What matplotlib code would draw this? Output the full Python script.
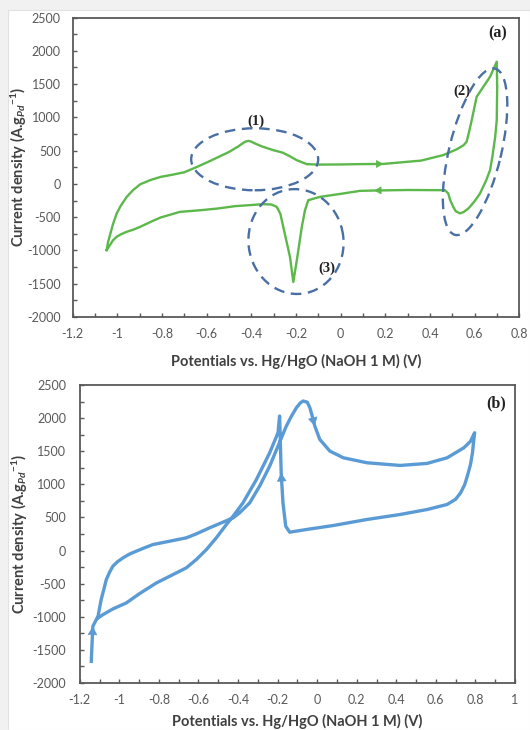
import matplotlib
matplotlib.use("Agg")
import matplotlib.pyplot as plt
import matplotlib.transforms as mtransforms
from matplotlib.patches import Ellipse, Rectangle
from matplotlib.ticker import MultipleLocator, FixedLocator, FixedFormatter

plt.rcParams['font.family'] = ['Lato', 'DejaVu Sans']
plt.rcParams['axes.unicode_minus'] = False
plt.rcParams['mathtext.fontset'] = 'custom'
plt.rcParams['mathtext.rm'] = 'Lato:bold'
plt.rcParams['mathtext.it'] = 'Lato:bold:italic'
plt.rcParams['mathtext.bf'] = 'Lato:bold'

# ---------------- Panel (a): CV, closed loop ----------------
a_potential = [-1.048, -1.042, -1.033, -1.02, -1.003, -0.985, -0.958, -0.93, -0.897,
               -0.85, -0.806, -0.75, -0.70, -0.64, -0.594, -0.55, -0.50, -0.46,
               -0.43, -0.414, -0.40, -0.389, -0.35, -0.302, -0.26, -0.23, -0.197,
               -0.17, -0.152, -0.10, 0.0, 0.087, 0.191, 0.36, 0.46, 0.52, 0.55,
               0.564, 0.575, 0.587, 0.609, 0.639, 0.669, 0.699,
               0.701, 0.699, 0.692, 0.68, 0.669, 0.65, 0.624, 0.60, 0.572, 0.55,
               0.534, 0.515, 0.504, 0.49, 0.482, 0.467, 0.30, 0.15, 0.087, 0.0,
               -0.092, -0.145, -0.16, -0.174, -0.194, -0.212, -0.227, -0.257,
               -0.27, -0.286, -0.31, -0.346, -0.473, -0.55, -0.624, -0.72, -0.76,
               -0.806, -0.85, -0.897, -0.93, -0.958, -0.985, -1.003, -1.02,
               -1.033, -1.048]
a_current = [-995, -880, -770, -610, -445, -330, -195, -95, -5,
             60, 105, 140, 175, 260, 330, 400, 480, 560,
             630, 647, 635, 615, 560, 507, 470, 420, 357,
             320, 297, 290, 292, 297, 300, 350, 433, 520, 580,
             633, 780, 959, 1310, 1460, 1611, 1837,
             1460, 959, 708, 420, 205, 40, -145, -260, -370, -425,
             -443, -410, -345, -240, -145, -95, -92, -100, -105, -150,
             -195, -245, -400, -647, -1098, -1475, -1098, -647,
             -450, -346, -310, -305, -335, -370, -395, -421, -460,
             -505, -570, -645, -690, -720, -760, -795, -850,
             -920, -995]
a_arrow_tips = [0.191, 0.15]   # potentials where the scan-direction arrows sit

a_xticks = [-1.2, -1.0, -0.8, -0.6, -0.4, -0.2, 0.0, 0.2, 0.4, 0.6, 0.8]
a_yticks = [-2000, -1500, -1000, -500, 0, 500, 1000, 1500, 2000, 2500]

# ---------------- Panel (b): CV, closed loop ----------------
b_potential = [-1.142, -1.138, -1.134, -1.108, -1.092, -1.078, -1.066, -1.05, -1.033,
               -1.01, -0.982, -0.95, -0.915, -0.87, -0.830, -0.746, -0.662, -0.611,
               -0.544, -0.476, -0.425, -0.392, -0.341, -0.291, -0.240, -0.198,
               -0.156, -0.13, -0.105, -0.085, -0.071, -0.05,
               -0.037, -0.025, -0.012, 0.013, 0.064, 0.132, 0.251, 0.420, 0.556,
               0.657, 0.742, 0.775, 0.796,
               0.79, 0.785, 0.775, 0.759, 0.745, 0.725, 0.70, 0.657, 0.556, 0.420,
               0.251, 0.081, -0.054, -0.139, -0.159, -0.173, -0.182, -0.187, -0.190,
               -0.198, -0.240, -0.307, -0.375, -0.425, -0.459, -0.510, -0.560,
               -0.611, -0.662, -0.729, -0.813, -0.898, -0.965, -1.033, -1.083,
               -1.108]
b_current = [-1673, -1400, -1144, -993, -741, -580, -438, -330, -237,
             -170, -111, -55, -10, 45, 91, 141, 192, 252,
             343, 429, 494, 570, 721, 973, 1275, 1578,
             1880, 2030, 2157, 2230, 2258, 2240,
             2157, 2030, 1880, 1679, 1502, 1401, 1326, 1285, 1316,
             1401, 1553, 1650, 1779,
             1620, 1477, 1300, 1124, 990, 872, 775, 696, 620, 545,
             469, 378, 318, 277, 368, 721, 1175, 1729, 2031,
             1779, 1477, 1074, 721, 519, 393, 192, 15,
             -136, -262, -363, -489, -650, -791, -882, -968,
             -1018]
b_arrow_tips = [-1.134, -0.012, -0.182]

b_xticks = [-1.2, -1.0, -0.8, -0.6, -0.4, -0.2, 0.0, 0.2, 0.4, 0.6, 0.8, 1.0]
b_yticks = [-2000, -1500, -1000, -500, 0, 500, 1000, 1500, 2000, 2500]

GREEN = '#5cb84a'
BLUE = '#5b9bd5'
DASH = '#4a6fa5'
SPINE = '#595959'
TICKLAB = '#595959'
LABEL = '#404040'

W, H = 530, 730
fig = plt.figure(figsize=(W / 100, H / 100), dpi=100, facecolor='#f1f1f1')
fig.patches.append(Rectangle((8 / W, 0), 1 - 8 / W, 1 - 10 / H, transform=fig.transFigure,
                             facecolor='white', edgecolor='#e2e2e2', lw=0.8, zorder=-10))

ax_a = fig.add_axes([72.7 / W, 1 - 316.9 / H, 446.6 / W, 299.3 / H])
ax_b = fig.add_axes([79.8 / W, 1 - 683 / H, 435.2 / W, 298 / H])


def style_axes(ax, xticks, yticks, ypad):
    ax.set_facecolor('white')
    ax.set_xlim(xticks[0], xticks[-1])
    ax.set_ylim(yticks[0], yticks[-1])
    ax.xaxis.set_major_locator(FixedLocator(xticks))
    ax.xaxis.set_major_formatter(FixedFormatter([f'{v:g}' for v in xticks]))
    ax.yaxis.set_major_locator(FixedLocator(yticks))
    ax.yaxis.set_major_formatter(FixedFormatter([f'{v:g}' for v in yticks]))
    ax.xaxis.set_minor_locator(MultipleLocator(0.1))
    ax.yaxis.set_minor_locator(MultipleLocator(250))
    for s in ax.spines.values():
        s.set_color(SPINE)
        s.set_linewidth(1.3)
    ax.tick_params(which='both', direction='in', length=2.6, width=1.0, color=SPINE,
                   top=False, right=False)
    ax.tick_params(axis='x', which='major', labelsize=9, labelcolor=TICKLAB, pad=8)
    ax.tick_params(axis='y', which='major', labelsize=9, labelcolor=TICKLAB, pad=ypad)


def add_arrows(ax, xs, ys, tips, color, scale):
    for t in tips:
        i = xs.index(t)
        ax.annotate('', xy=(xs[i], ys[i]), xytext=(xs[i - 1], ys[i - 1]),
                    arrowprops=dict(arrowstyle='-|>,head_length=0.5,head_width=0.28',
                                    color=color, lw=0.5, mutation_scale=scale,
                                    shrinkA=0, shrinkB=0), zorder=5)


def dashed_ellipse(ax, cx, cy, w_in, h_in, angle):
    trans = fig.dpi_scale_trans + mtransforms.ScaledTranslation(cx, cy, ax.transData)
    e = Ellipse((0, 0), w_in, h_in, angle=angle, transform=trans, fill=False,
                edgecolor=DASH, lw=1.7, linestyle=(0, (4.5, 2.8)), zorder=4)
    ax.add_patch(e)


# ---- panel (a)
style_axes(ax_a, a_xticks, a_yticks, 8.5)
ax_a.plot(a_potential, a_current, color=GREEN, lw=1.7, solid_joinstyle='round', zorder=3)
add_arrows(ax_a, a_potential, a_current, a_arrow_tips, GREEN, 9)
dashed_ellipse(ax_a, -0.385, 370, 1.27, 0.62, 0)
dashed_ellipse(ax_a, -0.20, -867, 1.05, 0.95, 97)
dashed_ellipse(ax_a, 0.602, 483, 1.71, 0.52, 76.5)
serif = dict(family='Liberation Serif', fontweight='bold', color='#222222')
ax_a.text(-0.38, 935, '(1)', fontsize=10.5, ha='center', va='center', **serif)
ax_a.text(0.545, 1390, '(2)', fontsize=10.5, ha='center', va='center', **serif)
ax_a.text(-0.062, -1273, '(3)', fontsize=10.5, ha='center', va='center', **serif)
ax_a.text(0.705, 2262, '(a)', fontsize=11.5, ha='center', va='center', **serif)

# ---- panel (b)
style_axes(ax_b, b_xticks, b_yticks, 10)
ax_b.plot(b_potential, b_current, color=BLUE, lw=2.4, solid_joinstyle='round', zorder=3)
add_arrows(ax_b, b_potential, b_current, b_arrow_tips, BLUE, 11)
ax_b.text(0.905, 2225, '(b)', fontsize=11.5, ha='center', va='center', **serif)

xlab = 'Potentials vs. Hg/HgO (NaOH 1 M) (V)'
ylab = r'Current density (A.g$_{Pd}$$^{-1}$)'
fig.text(296 / W, 1 - 361 / H, xlab, ha='center', va='center', fontsize=10.5,
         fontweight='bold', color=LABEL)
fig.text(297 / W, 1 - 721 / H, xlab, ha='center', va='center', fontsize=10.5,
         fontweight='bold', color=LABEL)
fig.text(18.6 / W, 1 - 167 / H, ylab, ha='center', va='center', rotation=90,
         fontsize=10.5, fontweight='bold', color=LABEL)
fig.text(20 / W, 1 - 534 / H, ylab, ha='center', va='center', rotation=90,
         fontsize=10.5, fontweight='bold', color=LABEL)

fig.savefig('out.png', dpi=100, facecolor=fig.get_facecolor())
